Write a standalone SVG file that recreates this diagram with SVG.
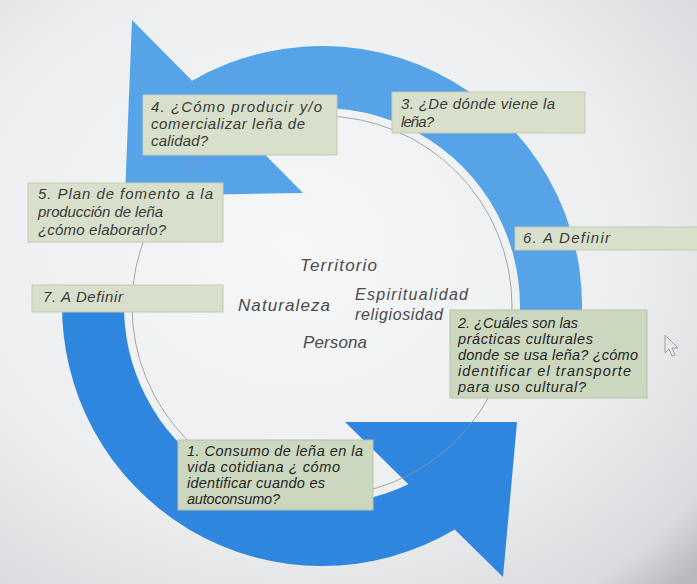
<svg xmlns="http://www.w3.org/2000/svg" width="697" height="584" viewBox="0 0 697 584">
  <defs>
    <radialGradient id="bg" cx="0.42" cy="0.42" r="0.8">
      <stop offset="0" stop-color="#f6f7f8"/>
      <stop offset="0.6" stop-color="#eceef0"/>
      <stop offset="0.9" stop-color="#d9dbde"/>
      <stop offset="1" stop-color="#b8babd"/>
    </radialGradient>
  </defs>
  <style>
    .box { fill: #d8e0cc; stroke: #c2cbb5; stroke-width: 1; }
    .box2 { fill: #cbd7bf; stroke: #b6c2a9; stroke-width: 1; }
    .t { font-family: "Liberation Sans", "DejaVu Sans", sans-serif; font-size: 15px; font-style: italic; fill: #3a3a38; }
    .tb { font-family: "Liberation Sans", "DejaVu Sans", sans-serif; font-size: 14.5px; font-style: italic; fill: #262624; }
    .c { font-family: "Liberation Sans", "DejaVu Sans", sans-serif; font-size: 17px; font-style: italic; fill: #4a4a4a; }
    .cs { font-family: "Liberation Sans", "DejaVu Sans", sans-serif; font-size: 16px; font-style: italic; fill: #4a4a4a; }
  </style>

  <rect x="0" y="0" width="697" height="584" fill="url(#bg)"/>

  <g id="connectors">
    <path id="arrow-top" fill="#56a3e8" d="M 569.3 386.3 A 260 260 0 0 0 192.1 80.8 L 132 20 L 125 196 L 303 193 L 237.6 126.9 A 198 198 0 0 1 510.3 367.2 Z"/>
    <path id="arrow-bottom" fill="#2f86de" d="M 62.2 296.9 A 260 260 0 0 0 454.7 529.6 L 503 577 L 517 422 L 345 422 L 408.4 484.2 A 198 198 0 0 1 124.1 299.1 Z"/>
    <circle cx="322" cy="306" r="190" fill="none" stroke="#8d949c" stroke-width="1" opacity="0.8"/>
  </g>

  <g id="center-labels">
    <text class="c" x="300" y="271" textLength="77" lengthAdjust="spacing">Territorio</text>
    <text class="c" x="238" y="311" textLength="92" lengthAdjust="spacing">Naturaleza</text>
    <text class="cs" x="355" y="300" textLength="113" lengthAdjust="spacing">Espiritualidad</text>
    <text class="cs" x="355" y="320" textLength="88" lengthAdjust="spacing">religiosidad</text>
    <text class="c" x="303" y="348" textLength="64" lengthAdjust="spacing">Persona</text>
  </g>

  <g id="node-4">
    <rect class="box" x="143" y="95" width="194" height="60"/>
    <text class="t" x="151" y="112" textLength="171" lengthAdjust="spacing">4. ¿Cómo producir y/o</text>
    <text class="t" x="151" y="129" textLength="154" lengthAdjust="spacing">comercializar leña de</text>
    <text class="t" x="151" y="146" textLength="57" lengthAdjust="spacing">calidad?</text>
  </g>

  <g id="node-3">
    <rect class="box" x="392" y="92" width="193" height="41"/>
    <text class="t" x="401" y="109" textLength="154" lengthAdjust="spacing">3. ¿De dónde viene la</text>
    <text class="t" x="401" y="127" textLength="33" lengthAdjust="spacing">leña?</text>
  </g>

  <g id="node-5">
    <rect class="box" x="28" y="183" width="195" height="59"/>
    <text class="t" x="38" y="199" textLength="175" lengthAdjust="spacing">5. Plan de fomento a la</text>
    <text class="t" x="38" y="217" textLength="125" lengthAdjust="spacing">producción de leña</text>
    <text class="t" x="38" y="235" textLength="128" lengthAdjust="spacing">¿cómo elaborarlo?</text>
  </g>

  <g id="node-6">
    <rect class="box" x="515" y="227" width="190" height="23"/>
    <text class="t" x="523" y="243" textLength="87" lengthAdjust="spacing">6. A Definir</text>
  </g>

  <g id="node-7">
    <rect class="box" x="32" y="285" width="191" height="27"/>
    <text class="t" x="43" y="302" textLength="80" lengthAdjust="spacing">7. A Definir</text>
  </g>

  <g id="node-2">
    <rect class="box2" x="450" y="310" width="197" height="88"/>
    <text class="tb" x="458" y="328" textLength="120" lengthAdjust="spacing">2. ¿Cuáles son las</text>
    <text class="tb" x="458" y="344" textLength="135" lengthAdjust="spacing">prácticas culturales</text>
    <text class="tb" x="458" y="360" textLength="180" lengthAdjust="spacing">donde se usa leña? ¿cómo</text>
    <text class="tb" x="458" y="376" textLength="173" lengthAdjust="spacing">identificar el transporte</text>
    <text class="tb" x="458" y="392" textLength="128" lengthAdjust="spacing">para uso cultural?</text>
  </g>

  <g id="node-1">
    <rect class="box2" x="178" y="440" width="195" height="70"/>
    <text class="tb" x="187" y="456" textLength="176" lengthAdjust="spacing">1. Consumo de leña en la</text>
    <text class="tb" x="187" y="472" textLength="153" lengthAdjust="spacing">vida cotidiana ¿ cómo</text>
    <text class="tb" x="187" y="488" textLength="138" lengthAdjust="spacing">identificar cuando es</text>
    <text class="tb" x="187" y="504" textLength="93" lengthAdjust="spacing">autoconsumo?</text>
  </g>

  <g id="cursor">
    <path d="M 665 335 L 665 353 L 669 349 L 672 356 L 675 355 L 672 348 L 678 348 Z" fill="none" stroke="#9ca2a8" stroke-width="1"/>
  </g>
</svg>
